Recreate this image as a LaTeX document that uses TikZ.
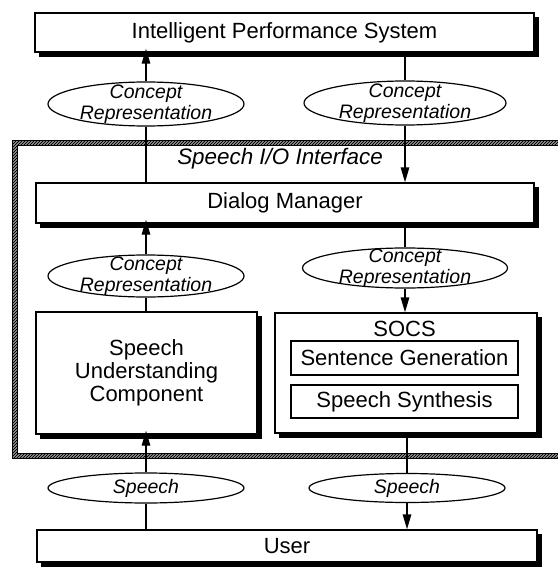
\documentclass[tikz,border=0pt]{standalone}
\usepackage{fontspec}
\setmainfont{Liberation Sans}
\usetikzlibrary{arrows.meta,shapes.geometric}
\pgfdeclarelayer{background}
\pgfsetlayers{background,main}
\begin{document}
\begin{tikzpicture}[x=1pt,y=-1pt,
  box/.style={draw, line width=1.4pt, fill=white, inner sep=0pt, align=center,
    font=\fontsize{22}{23}\selectfont},
  inbox/.style={draw, line width=1.3pt, fill=white, inner sep=0pt, align=center,
    font=\fontsize{22}{23}\selectfont},
  ell/.style={draw, ellipse, line width=1.2pt, fill=white, inner sep=0pt},
  lab/.style={font=\itshape\fontsize{19.5}{20.5}\selectfont, align=center, inner sep=0pt},
  con/.style={line width=1.4pt},
  arr/.style={con, -{Triangle[length=15pt,width=8.5pt]}},
  shadowfill/.style={fill=black},
]
\useasboundingbox (0,0) rectangle (557,567);

% boxes
\node[box, minimum width=499pt, minimum height=39pt] (ips) at (284.5,32.5) {Intelligent Performance System};
\node[box, minimum width=498pt, minimum height=40pt] (dm) at (285,203) {Dialog Manager};
\node[box, minimum width=221pt, minimum height=122pt] (suc) at (146.5,373) {Speech\\Understanding\\Component};
\node[box, minimum width=262pt, minimum height=120pt] (socs) at (406,373) {};
\node[font=\fontsize{22}{23}\selectfont, inner sep=0pt] (socst) at (404.5,329) {SOCS};
\node[inbox, minimum width=227pt, minimum height=34pt] (sg) at (404.5,358) {Sentence Generation};
\node[inbox, minimum width=227pt, minimum height=33pt] (ss) at (404.5,401.5) {Speech Synthesis};
\node[box, minimum width=500pt, minimum height=32pt] (user) at (287,546) {User};

\begin{pgfonlayer}{background}
  % hatched interface border
  \begin{scope}[even odd rule]
    \clip (12,140) rectangle (575,458) (17,145) rectangle (570,453);
    \foreach \a in {-340,-337,...,600} \draw[line width=1.1pt] (\a,470) -- (\a+340,130);
  \end{scope}
  \draw[line width=0.7pt] (12,140) rectangle (575,458);
  \draw[line width=0.7pt] (17,145) rectangle (570,453);
  % drop shadows
  \foreach \n in {ips,dm,suc,socs,user}
    \fill[shadowfill] ([shift={(4.5,4.5)}]\n.north west) rectangle ([shift={(4.5,4.5)}]\n.south east);
\end{pgfonlayer}

\node[font=\itshape\fontsize{22.4}{24}\selectfont, inner sep=0pt] (iface) at (280,159) {Speech I/O Interface};

% ellipses
\node[ell, minimum width=196pt, minimum height=44pt] (e1) at (146,104) {};
\node[lab] (t1) at (e1) {Concept\\Representation};
\node[ell, minimum width=202pt, minimum height=44pt] (e2) at (405,103) {};
\node[lab] (t2) at (e2) {Concept\\Representation};
\node[ell, minimum width=196pt, minimum height=42pt] (e3) at (146,276) {};
\node[lab] (t3) at (e3) {Concept\\Representation};
\node[ell, minimum width=205pt, minimum height=40pt] (e4) at (405,268) {};
\node[lab] (t4) at (e4) {Concept\\Representation};
\node[ell, minimum width=196pt, minimum height=30pt] (e5) at (146,488) {};
\node[lab] (t5) at (e5) {Speech};
\node[ell, minimum width=196pt, minimum height=29pt] (e6) at (407,488) {};
\node[lab] (t6) at (e6) {Speech};

% connectors
\draw[arr, shorten >=-4pt] (e1.north) -- (e1.north |- ips.south);
\draw[con] (e2.north |- ips.south) -- (e2.north);
\draw[con] (e1.south) -- (e1.south |- dm.north);
\draw[arr] (e2.south) -- (e2.south |- dm.north);
\draw[arr, shorten >=-4pt] (e3.north) -- (e3.north |- dm.south);
\draw[con] (e4.north |- dm.south) -- (e4.north);
\draw[con] (e3.south) -- (e3.south |- suc.north);
\draw[arr] (e4.south) -- (e4.south |- socs.north);
\draw[arr, shorten >=-4pt] (e5.north) -- (e5.north |- suc.south);
\draw[con] (e6.north |- socs.south) -- (e6.north);
\draw[con] (e5.south) -- (e5.south |- user.north);
\draw[arr] (e6.south) -- (e6.south |- user.north);
\end{tikzpicture}
\end{document}
